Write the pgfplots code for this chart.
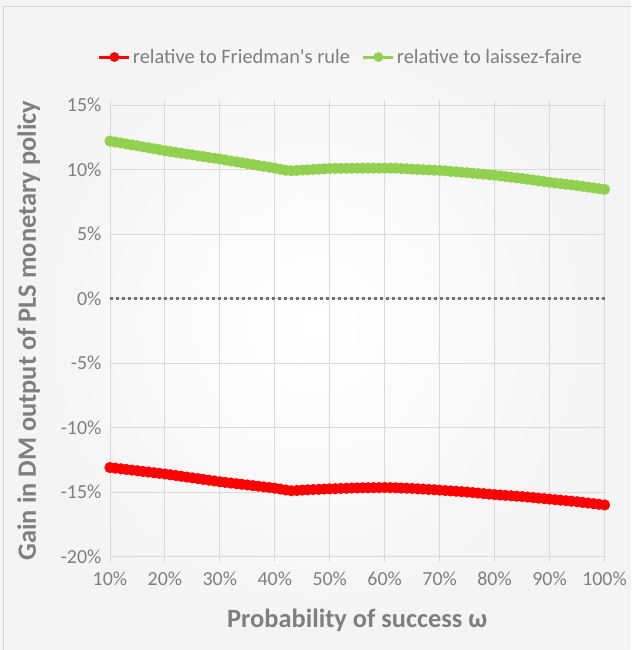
\documentclass[border=0pt]{standalone}
\usepackage{pgfplots}
\pgfplotsset{compat=1.18}
\usepackage{fontspec}
\setmainfont{Carlito}[Ligatures=TeXOff]
\definecolor{txt}{RGB}{127,127,127}
\definecolor{gridc}{RGB}{217,217,217}
\definecolor{myred}{RGB}{255,0,0}
\definecolor{mygreen}{RGB}{146,208,80}
\definecolor{zeroc}{RGB}{118,113,113}
\begin{document}
\begin{tikzpicture}[x=1bp,y=1bp]
\shade[inner color=white, outer color=gray!9] (-110bp,-93bp) rectangle (521bp,557bp);
\draw[gray!35, line width=1bp] (-106bp,-93bp) -- (-106bp,550bp) -- (521bp,550bp);
\begin{axis}[
  at={(0,0)}, anchor=south west,
  scale only axis, width=495bp, height=452bp,
  xmin=10, xmax=100, ymin=-20, ymax=15,
  xtick={10,20,...,100}, ytick={-20,-15,...,15},
  xticklabels={10\%,20\%,30\%,40\%,50\%,60\%,70\%,80\%,90\%,100\%},
  yticklabels={-20\%,-15\%,-10\%,-5\%,0\%,5\%,10\%,15\%},
  grid=major, major grid style={gridc, line width=0.8bp},
  axis line style={gridc, line width=0.8bp},
  xtick style={gridc, line width=0.8bp}, ytick style={draw=none},
  xtick align=outside, major tick length=5bp,
  tick label style={font=\fontsize{20}{22}\selectfont, text=txt},
  xticklabel style={yshift=-7bp},
  yticklabel style={xshift=-5bp},
  xlabel={Probability of success ω}, ylabel={Gain in DM output of PLS monetary policy},
  label style={font=\bfseries\fontsize{26.5}{28}\selectfont, text=txt},
  xlabel style={yshift=-16bp}, ylabel style={yshift=14bp},
  legend columns=2,
  legend style={at={(0.467,1.106)}, anchor=center, draw=none, fill=none,
    font=\fontsize{20.5}{22}\selectfont, text=txt, /tikz/every even column/.append style={column sep=10bp}},
  legend image code/.code={\draw[#1, mark=none] (0bp,0bp) -- (30bp,0bp); \path[#1, mark size=3.3bp] plot coordinates {(15bp,0bp)};},
  clip=false,
]
\addplot[zeroc, line width=3bp, dash pattern=on 3bp off 3bp, forget plot] coordinates {(10,0) (100,0)};
\addplot[myred, line width=3bp, mark=*, mark size=4bp, mark options={solid}] coordinates {
(10,-13.10)(11,-13.15)(12,-13.20)(13,-13.25)(14,-13.30)(15,-13.35)(16,-13.40)(17,-13.45)(18,-13.50)(19,-13.55)
(20,-13.60)(21,-13.66)(22,-13.72)(23,-13.78)(24,-13.84)(25,-13.90)(26,-13.96)(27,-14.02)(28,-14.08)(29,-14.14)
(30,-14.20)(31,-14.25)(32,-14.30)(33,-14.35)(34,-14.40)(35,-14.45)(36,-14.50)(37,-14.55)(38,-14.60)(39,-14.65)
(40,-14.70)(41,-14.77)(42,-14.84)(43,-14.90)(44,-14.88)(45,-14.85)(46,-14.83)(47,-14.81)(48,-14.79)(49,-14.77)
(50,-14.75)(51,-14.74)(52,-14.72)(53,-14.71)(54,-14.69)(55,-14.68)(56,-14.67)(57,-14.67)(58,-14.66)(59,-14.66)
(60,-14.65)(61,-14.66)(62,-14.67)(63,-14.69)(64,-14.70)(65,-14.72)(66,-14.75)(67,-14.77)(68,-14.80)(69,-14.82)
(70,-14.85)(71,-14.88)(72,-14.91)(73,-14.94)(74,-14.97)(75,-15.00)(76,-15.04)(77,-15.08)(78,-15.12)(79,-15.16)
(80,-15.20)(81,-15.23)(82,-15.26)(83,-15.29)(84,-15.32)(85,-15.35)(86,-15.39)(87,-15.43)(88,-15.47)(89,-15.51)
(90,-15.55)(91,-15.59)(92,-15.63)(93,-15.67)(94,-15.71)(95,-15.75)(96,-15.80)(97,-15.85)(98,-15.90)(99,-15.95)
(100,-16.00)};
\addlegendentry{relative to Friedman's rule}
\addplot[mygreen, line width=3bp, mark=*, mark size=4bp, mark options={solid}] coordinates {
(10,12.20)(11,12.12)(12,12.05)(13,11.98)(14,11.90)(15,11.83)(16,11.75)(17,11.68)(18,11.60)(19,11.53)
(20,11.45)(21,11.39)(22,11.32)(23,11.26)(24,11.19)(25,11.13)(26,11.06)(27,11.00)(28,10.93)(29,10.87)
(30,10.80)(31,10.73)(32,10.66)(33,10.59)(34,10.52)(35,10.45)(36,10.38)(37,10.31)(38,10.24)(39,10.17)
(40,10.10)(41,10.01)(42,9.93)(43,9.90)(44,9.92)(45,9.95)(46,9.97)(47,10.00)(48,10.02)(49,10.05)
(50,10.07)(51,10.08)(52,10.08)(53,10.09)(54,10.09)(55,10.10)(56,10.10)(57,10.10)(58,10.10)(59,10.10)
(60,10.10)(61,10.10)(62,10.10)(63,10.07)(64,10.05)(65,10.02)(66,10.00)(67,9.98)(68,9.96)(69,9.94)
(70,9.92)(71,9.89)(72,9.85)(73,9.82)(74,9.78)(75,9.75)(76,9.71)(77,9.67)(78,9.63)(79,9.59)
(80,9.55)(81,9.50)(82,9.45)(83,9.40)(84,9.35)(85,9.30)(86,9.24)(87,9.18)(88,9.12)(89,9.06)
(90,9.00)(91,8.95)(92,8.90)(93,8.85)(94,8.80)(95,8.75)(96,8.69)(97,8.63)(98,8.57)(99,8.51)
(100,8.45)};
\addlegendentry{relative to laissez-faire}
\end{axis}
\useasboundingbox (-110bp,-93bp) rectangle (521bp,557bp);
\end{tikzpicture}
\end{document}
